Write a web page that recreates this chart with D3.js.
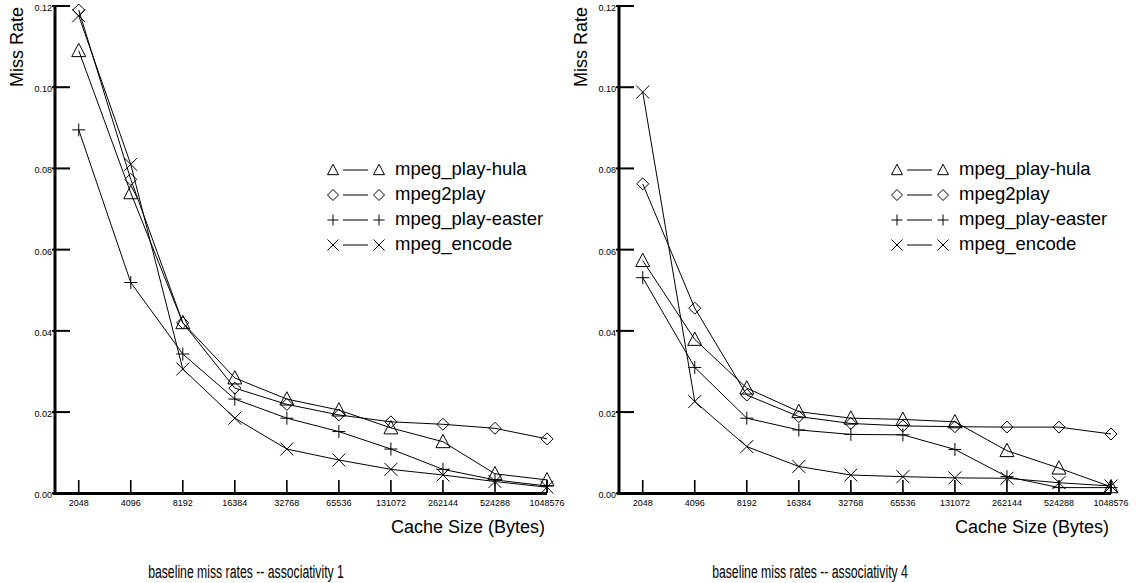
<!DOCTYPE html>
<html>
<head>
<meta charset="UTF-8" />
<script src="https://d3js.org/d3.v7.min.js"></script>
<style>
  body { margin: 0; background: #fff; }
  text { font-family: "Liberation Sans", Arial, sans-serif; fill: #000; }
</style>
</head>
<body>
<svg id="chart" width="1136" height="583"></svg>
<script>
// cache sizes in bytes
var sizes = [2048, 4096, 8192, 16384, 32768, 65536, 131072, 262144, 524288, 1048576];
var yTicks = [0, 0.02, 0.04, 0.06, 0.08, 0.10, 0.12];
var seriesNames = ["mpeg_play-hula", "mpeg2play", "mpeg_play-easter", "mpeg_encode"];
var markers = ["triangle", "diamond", "plus", "cross"];

// associativity 1
var hula1   = [0.109, 0.074, 0.042, 0.0284, 0.0232, 0.0205, 0.0161, 0.0127, 0.0048, 0.0033];
var mpeg2p1 = [0.119, 0.0773, 0.042, 0.0259, 0.0219, 0.0193, 0.0176, 0.0170, 0.0160, 0.0134];
var easter1 = [0.0895, 0.0519, 0.0343, 0.0232, 0.0185, 0.0152, 0.0109, 0.0059, 0.0033, 0.0018];
var encode1 = [0.1176, 0.081, 0.0306, 0.0185, 0.0109, 0.0082, 0.0059, 0.0045, 0.0029, 0.0015];

// associativity 4
var hula4   = [0.0573, 0.0379, 0.0259, 0.0201, 0.0185, 0.0182, 0.0176, 0.0105, 0.0062, 0.0016];
var mpeg2p4 = [0.0762, 0.0456, 0.0242, 0.0189, 0.0172, 0.0166, 0.0164, 0.0163, 0.0163, 0.0146];
var easter4 = [0.0531, 0.031, 0.0185, 0.0156, 0.0145, 0.0144, 0.0108, 0.0041, 0.0014, 0.0014];
var encode4 = [0.0988, 0.0226, 0.0115, 0.0066, 0.0045, 0.0041, 0.0038, 0.0037, 0.0026, 0.0018];

var svg = d3.select("#chart");

function markerPath(type, s) {
  var h = s / 2;
  if (type == "triangle") return "M" + (-h) + "," + (h * 0.85) + "L0," + (-h * 1.05) + "L" + h + "," + (h * 0.85) + "Z";
  if (type == "diamond") return "M0," + (-h) + "L" + h + ",0L0," + h + "L" + (-h) + ",0Z";
  if (type == "plus") return "M" + (-h) + ",0L" + h + ",0M0," + (-h) + "L0," + h;
  return "M" + (-h) + "," + (-h) + "L" + h + "," + h + "M" + (-h) + "," + h + "L" + h + "," + (-h);
}

function drawPanel(left, data, title) {
  var g = svg.append("g");
  var x0 = left, x1 = left + 492;
  var x = d3.scaleLog().base(2).domain([Math.pow(2, 10.544), 1048576]).range([x0, x1]);
  var y = d3.scaleLinear().domain([0, 0.12]).range([493.3, 6]);

  // series
  var line = d3.line()
    .x(function(d, i) { return x(sizes[i]); })
    .y(function(d) { return y(d); });
  data.forEach(function(vals, k) {
    g.append("path").attr("d", line(vals))
      .attr("fill", "none").attr("stroke", "#000").attr("stroke-width", 1);
    g.selectAll(".m" + k).data(vals).enter().append("path")
      .attr("transform", function(d, i) { return "translate(" + x(sizes[i]) + "," + y(d) + ")"; })
      .attr("d", markerPath(markers[k], k == 0 ? 14 : (k == 1 ? 12 : 13)))
      .attr("fill", "none").attr("stroke", "#000").attr("stroke-width", 1);
  });

  // y ticks (filled bars) and labels
  yTicks.forEach(function(d) {
    g.append("rect").attr("x", x0 - 3).attr("y", y(d) - 1).attr("width", 18).attr("height", 2)
      .attr("fill", "#000");
    g.append("text").attr("x", x0 - 3).attr("y", y(d) + 5)
      .attr("text-anchor", "end").style("font-size", "9px")
      .text(d3.format(".2f")(d));
  });

  // x ticks and labels
  sizes.forEach(function(d) {
    g.append("rect").attr("x", x(d) - 0.8).attr("y", 480).attr("width", 1.6).attr("height", 13)
      .attr("fill", "#000");
    g.append("text").attr("x", x(d)).attr("y", 505.5)
      .attr("text-anchor", "middle").style("font-size", "9px")
      .text(d);
  });

  // axes
  g.append("rect").attr("x", x0 - 1.5).attr("y", 5).attr("width", 3).attr("height", 490)
    .attr("fill", "#000");
  g.append("rect").attr("x", x0 - 1.5).attr("y", 492).attr("width", x1 - x0 + 1.5).attr("height", 3)
    .attr("fill", "#000");

  // legend
  var lx = left + 272;
  seriesNames.forEach(function(name, k) {
    var by = 175 + k * 25, cy = by - 5;
    g.append("path").attr("transform", "translate(" + (lx + 6) + "," + cy + ")")
      .attr("d", markerPath(markers[k], 11)).attr("fill", "none").attr("stroke", "#000");
    g.append("line").attr("x1", lx + 16).attr("x2", lx + 41).attr("y1", cy).attr("y2", cy)
      .attr("stroke", "#000").attr("stroke-width", 1);
    g.append("path").attr("transform", "translate(" + (lx + 52) + "," + cy + ")")
      .attr("d", markerPath(markers[k], 11)).attr("fill", "none").attr("stroke", "#000");
    g.append("text").attr("x", lx + 68).attr("y", by).style("font-size", "18.5px").text(name);
  });

  // axis titles
  g.append("text").attr("transform", "translate(" + (left - 32) + ",7) rotate(-90)")
    .attr("text-anchor", "end").style("font-size", "18px").text("Miss Rate");
  g.append("text").attr("x", x1 - 2).attr("y", 533)
    .attr("text-anchor", "end").style("font-size", "18px").text("Cache Size (Bytes)");

  // narrow caption under the panel
  g.append("text").attr("transform", "translate(" + (left + 191) + ",578) scale(0.68,1)")
    .attr("text-anchor", "middle").style("font-size", "18px")
    .text(title);
}

drawPanel(55, [hula1, mpeg2p1, easter1, encode1], "baseline miss rates -- associativity 1");
drawPanel(619, [hula4, mpeg2p4, easter4, encode4], "baseline miss rates -- associativity 4");
</script>
</body>
</html>
